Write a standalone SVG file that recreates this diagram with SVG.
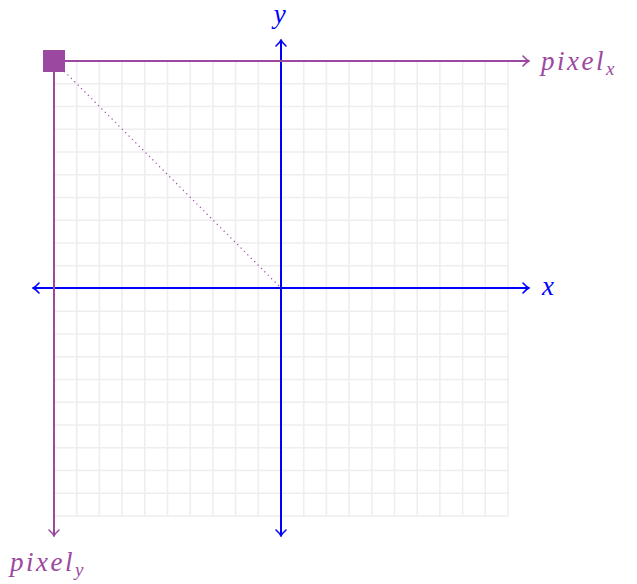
<svg xmlns="http://www.w3.org/2000/svg" width="637" height="584" viewBox="0 0 637 584">
<style>
.grid line{stroke:#eeeeee;stroke-width:1.6}
.blue{stroke:#0000ff;stroke-width:2;fill:none}
.purple{stroke:#9b49a0;stroke-width:2;fill:none}
.lbl{font-family:"Liberation Serif","DejaVu Serif",serif;font-style:italic;font-size:27px;letter-spacing:2.5px}
.sub{font-size:19px;letter-spacing:0}
</style>
<defs>
<marker id="ab" viewBox="-6 -6 8 12" markerWidth="8" markerHeight="12" refX="0" refY="0" orient="auto-start-reverse" markerUnits="userSpaceOnUse">
<path d="M-5,-5 Q-1.5,-1 1,0 Q-1.5,1 -5,5" fill="none" stroke="#0000ff" stroke-width="1.6" stroke-linecap="round"/>
</marker>
<marker id="ap" viewBox="-6 -6 8 12" markerWidth="8" markerHeight="12" refX="0" refY="0" orient="auto-start-reverse" markerUnits="userSpaceOnUse">
<path d="M-5,-5 Q-1.5,-1 1,0 Q-1.5,1 -5,5" fill="none" stroke="#9b49a0" stroke-width="1.6" stroke-linecap="round"/>
</marker>
</defs>
<rect width="637" height="584" fill="#ffffff"/>
<g id="grid" class="grid">
<line x1="54" y1="61" x2="54" y2="516"/><line x1="76.7" y1="61" x2="76.7" y2="516"/><line x1="99.4" y1="61" x2="99.4" y2="516"/><line x1="122.1" y1="61" x2="122.1" y2="516"/><line x1="144.8" y1="61" x2="144.8" y2="516"/><line x1="167.5" y1="61" x2="167.5" y2="516"/><line x1="190.2" y1="61" x2="190.2" y2="516"/><line x1="212.9" y1="61" x2="212.9" y2="516"/><line x1="235.6" y1="61" x2="235.6" y2="516"/><line x1="258.3" y1="61" x2="258.3" y2="516"/><line x1="281" y1="61" x2="281" y2="516"/><line x1="303.7" y1="61" x2="303.7" y2="516"/><line x1="326.4" y1="61" x2="326.4" y2="516"/><line x1="349.1" y1="61" x2="349.1" y2="516"/><line x1="371.8" y1="61" x2="371.8" y2="516"/><line x1="394.5" y1="61" x2="394.5" y2="516"/><line x1="417.2" y1="61" x2="417.2" y2="516"/><line x1="439.9" y1="61" x2="439.9" y2="516"/><line x1="462.6" y1="61" x2="462.6" y2="516"/><line x1="485.3" y1="61" x2="485.3" y2="516"/><line x1="508" y1="61" x2="508" y2="516"/>
<line x1="54" y1="61" x2="508" y2="61"/><line x1="54" y1="83.75" x2="508" y2="83.75"/><line x1="54" y1="106.5" x2="508" y2="106.5"/><line x1="54" y1="129.25" x2="508" y2="129.25"/><line x1="54" y1="152" x2="508" y2="152"/><line x1="54" y1="174.75" x2="508" y2="174.75"/><line x1="54" y1="197.5" x2="508" y2="197.5"/><line x1="54" y1="220.25" x2="508" y2="220.25"/><line x1="54" y1="243" x2="508" y2="243"/><line x1="54" y1="265.75" x2="508" y2="265.75"/><line x1="54" y1="288.5" x2="508" y2="288.5"/><line x1="54" y1="311.25" x2="508" y2="311.25"/><line x1="54" y1="334" x2="508" y2="334"/><line x1="54" y1="356.75" x2="508" y2="356.75"/><line x1="54" y1="379.5" x2="508" y2="379.5"/><line x1="54" y1="402.25" x2="508" y2="402.25"/><line x1="54" y1="425" x2="508" y2="425"/><line x1="54" y1="447.75" x2="508" y2="447.75"/><line x1="54" y1="470.5" x2="508" y2="470.5"/><line x1="54" y1="493.25" x2="508" y2="493.25"/><line x1="54" y1="516" x2="508" y2="516"/>
</g>
<g id="connectors">
<line id="diag" x1="54" y1="61" x2="281" y2="288" stroke="#9b49a0" stroke-width="1.2" stroke-dasharray="1.2,3.6"/>
<line id="x-axis" class="blue" x1="34" y1="288" x2="528" y2="288" marker-start="url(#ab)" marker-end="url(#ab)"/>
<line id="y-axis" class="blue" x1="281" y1="41" x2="281" y2="535" marker-start="url(#ab)" marker-end="url(#ab)"/>
<line id="pixel-x-axis" class="purple" x1="54" y1="61" x2="528" y2="61" marker-end="url(#ap)"/>
<line id="pixel-y-axis" class="purple" x1="54" y1="61" x2="54" y2="535" marker-end="url(#ap)"/>
</g>
<g id="origin-pixel"><rect x="43" y="50" width="22" height="22" fill="#9b49a0"/></g>
<g id="label-y"><text class="lbl" x="281" y="23" text-anchor="middle" fill="#0000ff" letter-spacing="0" font-size="25">y</text></g>
<g id="label-x"><text class="lbl" x="542" y="295" fill="#0000ff">x</text></g>
<g id="label-pixel-x"><text class="lbl" x="541" y="70" fill="#9b49a0">pixel<tspan class="sub" dy="5">x</tspan></text></g>
<g id="label-pixel-y"><text class="lbl" x="10" y="571" fill="#9b49a0">pixel<tspan class="sub" dy="5">y</tspan></text></g>
</svg>
